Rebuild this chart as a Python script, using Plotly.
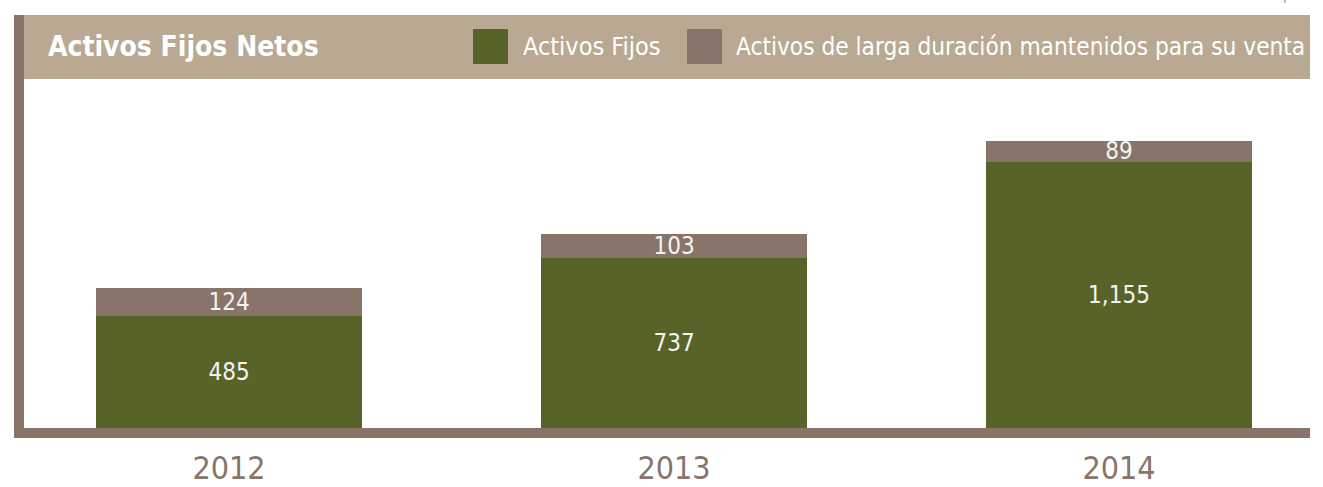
import plotly.graph_objects as go

years = ["2012", "2013", "2014"]
activos_fijos = [485, 737, 1155]
activos_venta = [124, 103, 89]
series_names = ["Activos Fijos", "Activos de larga duración mantenidos para su venta"]
title_text = "Activos Fijos Netos"

W, H = 1323, 487
ML, MR, MT, MB = 24, 13, 79, 59
PW, PH = W - ML - MR, H - MT - MB

GREEN = "#58632A"
BROWN = "#89746A"
HEADER = "#B9A993"
FONT = "DejaVu Sans Condensed"


def px(x):
    return (x - ML) / PW


def py(y):
    return (H - MB - y) / PH


fig = go.Figure()
for vals, name, col in [(activos_fijos, series_names[0], GREEN), (activos_venta, series_names[1], BROWN)]:
    fig.add_trace(go.Bar(
        x=years, y=vals, name=name,
        marker=dict(color=col, line=dict(width=0)),
        texttemplate="%{y:,}", textposition="inside", insidetextanchor="middle", textangle=0,
        textfont=dict(size=24, color="#F4F4F0", family=FONT),
        showlegend=False, hoverinfo="skip",
    ))

shapes = [
    dict(type="rect", xref="paper", yref="paper", x0=px(14), x1=px(1310), y0=py(79), y1=py(15),
         fillcolor=HEADER, line=dict(width=0), layer="below"),
    dict(type="rect", xref="paper", yref="paper", x0=px(14), x1=px(24), y0=py(438), y1=py(15),
         fillcolor=BROWN, line=dict(width=0)),
    dict(type="rect", xref="paper", yref="paper", x0=px(14), x1=px(1310), y0=py(438), y1=py(428),
         fillcolor=BROWN, line=dict(width=0)),
    dict(type="rect", xref="paper", yref="paper", x0=px(473), x1=px(508), y0=py(64), y1=py(29),
         fillcolor=GREEN, line=dict(width=0)),
    dict(type="rect", xref="paper", yref="paper", x0=px(687), x1=px(722), y0=py(64), y1=py(29),
         fillcolor=BROWN, line=dict(width=0)),
    dict(type="line", xref="paper", yref="paper", x0=px(1285), x1=px(1285), y0=py(0), y1=py(3),
         line=dict(color=BROWN, width=1)),
]

annotations = [
    dict(text="<b>" + title_text + "</b>", xref="paper", yref="paper", x=px(46), y=py(47),
         xanchor="left", yanchor="middle", showarrow=False,
         font=dict(size=28, color="white", family=FONT)),
    dict(text=series_names[0], xref="paper", yref="paper", x=px(521), y=py(47),
         xanchor="left", yanchor="middle", showarrow=False,
         font=dict(size=25, color="white", family=FONT)),
    dict(text=series_names[1], xref="paper", yref="paper", x=px(734), y=py(47),
         xanchor="left", yanchor="middle", showarrow=False,
         font=dict(size=24.2, color="white", family=FONT)),
]

fig.update_layout(
    width=W, height=H,
    margin=dict(l=ML, r=MR, t=MT, b=MB, pad=0, autoexpand=False),
    barmode="stack", bargap=0.402,
    plot_bgcolor="white", paper_bgcolor="white",
    shapes=shapes, annotations=annotations,
    uniformtext=dict(minsize=24, mode="show"),
    xaxis=dict(range=[-205 / 445, (PW - 205) / 445], showgrid=False, zeroline=False,
               showline=False, ticks="", ticklabelstandoff=18, automargin=False,
               tickfont=dict(size=32, color=BROWN, family=FONT)),
    yaxis=dict(range=[0, 1513], visible=False, showgrid=False, zeroline=False, automargin=False),
)

fig.write_html("out.html", config={"displayModeBar": False},
               post_script="document.body.style.margin='0px';")
